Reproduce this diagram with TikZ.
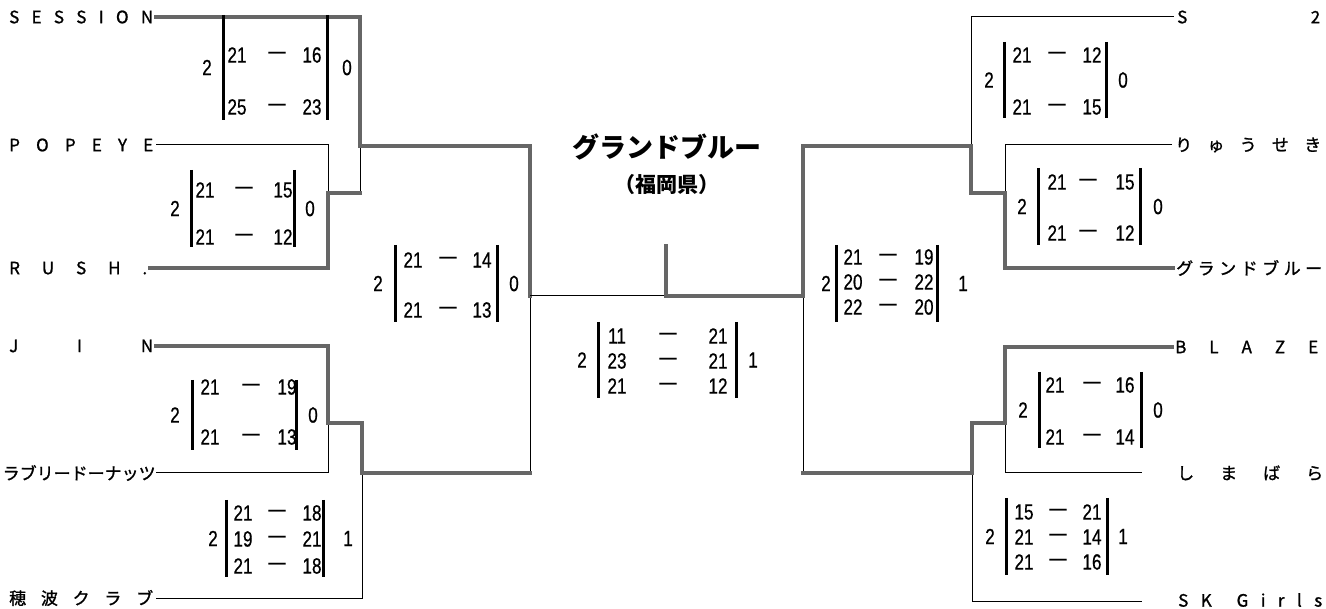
\documentclass[tikz,border=0pt]{standalone}
\usepackage{fontspec}
\newfontfamily\jp{Noto Sans CJK JP}
\newfontfamily\jpn[FakeBold=1.2]{Noto Sans CJK JP}
\newfontfamily\scf[FakeStretch=0.78,FakeBold=0.6]{Liberation Sans}
\usetikzlibrary{calc}
\tikzset{
  tl/.style={draw=black, line width=1pt},
  tk/.style={draw=black!60, line width=4.5pt, line join=miter, line cap=rect},
  sbar/.style={draw=black, line width=3pt},
  sc/.style={font=\scf\fontsize{22}{22}\selectfont, inner sep=0pt},
  nm/.style={font=\jpn\fontsize{17}{17}\selectfont, inner xsep=3pt, inner ysep=0pt, anchor=west},
  ttl/.style={font=\jp\bfseries\fontsize{27}{27}\selectfont, inner sep=0pt},
  sub/.style={font=\jp\bfseries\fontsize{21}{21}\selectfont, inner sep=0pt},
}
\newcommand\stab[9]{%
  \draw[sbar] (#3,#6) -- (#3,#7);
  \draw[sbar] (#4,#6) -- (#4,#7);
  \node[sc] (#1L) at (#2,{(#6+#7)/2}) {#8};
  \node[sc] (#1R) at (#5,{(#6+#7)/2}) {#9};
}
\newcommand\srow[7]{%
  \node[sc] (#1a) at (#3,#2) {#6};
  \node[sc] (#1d) at (#4,#2) {—};
  \node[sc] (#1b) at (#5,#2) {#7};
}
\begin{document}
\begin{tikzpicture}[x=1pt,y=-1pt]
\useasboundingbox (0,0) rectangle (1326,609);

% ---------- names left
\node[nm] (session) at (6,17) {\makebox[144pt]{S\hfill E\hfill S\hfill S\hfill I\hfill O\hfill N}};
\node[nm] (popeye) at (6,145) {\makebox[144pt]{P\hfill O\hfill P\hfill E\hfill Y\hfill E}};
\node[nm] (rush) at (6,268) {\makebox[138pt]{R\hfill U\hfill S\hfill H\hfill .}};
\node[nm] (jin) at (6,346) {\makebox[144pt]{J\hfill I\hfill N}};
\node[nm] (lovely) at (2,473) {\makebox[148pt]{ラ\hfill ブ\hfill リ\hfill ー\hfill ド\hfill ー\hfill ナ\hfill ッ\hfill ツ}};
\node[nm] (honami) at (6,598) {\makebox[144pt]{穂\hfill 波\hfill ク\hfill ラ\hfill ブ}};

% ---------- names right
\node[nm] (s2) at (1174,17) {\makebox[143pt]{S\hfill 2}};
\node[nm] (ryu) at (1172,145) {\makebox[146pt]{り\hfill ゅ\hfill う\hfill せ\hfill き}};
\node[nm] (grand) at (1173,268) {\makebox[146pt]{グ\hfill ラ\hfill ン\hfill ド\hfill ブ\hfill ル\hfill ー}};
\node[nm] (blaze) at (1172,347) {\makebox[143pt]{B\hfill L\hfill A\hfill Z\hfill E}};
\node[nm] (shima) at (1174,473) {\makebox[146pt]{し\hfill ま\hfill ば\hfill ら}};
\node[nm] (skg) at (1175,600) {\makebox[144pt]{S\hfill K\hfill\hfill G\hfill i\hfill r\hfill l\hfill s}};

% ---------- title
\node[ttl] (title) at (667,147) {グランドブルー};
\node[sub] (pref) at (667,185) {（福岡県）};

% ---------- junctions
\coordinate (A1) at (328,193);
\coordinate (A2) at (360,146);
\coordinate (B1) at (328,423);
\coordinate (B2) at (362,473);
\coordinate (L) at (530,296);
\coordinate (C) at (666,296);
\coordinate (Ctop) at (666,246);
\coordinate (R) at (803,296);
\coordinate (D1) at (1005,193);
\coordinate (D2) at (971,146);
\coordinate (E1) at (1005,423);
\coordinate (E2) at (972,473);
\coordinate (shimaend) at (1142,473);
\coordinate (skend) at (1142,601);

% ---------- left bracket
\draw[tl] (popeye.east) -- (328,145) -- (A1);
\draw[tl] (360,193) -- (A2);
\draw[tl] (lovely.east) -- (328,473) -- (B1);
\draw[tl] (honami.east) -- (362,598) -- (B2);
\draw[tl] (L) -- (530,473);
\draw[tk] (session.east) -- (360,17) -- (A2) -- (530,146) -- (L);
\draw[tk] (rush.east) -- (328,268) -- (A1) -- (360,193);
\draw[tk] (jin.east) -- (328,346) -- (B1) -- (362,423) -- (B2) -- (530,473);

% ---------- center
\draw[tl] (L) -- (C);
\draw[tk] (Ctop) -- (C) -- (R);

% ---------- right bracket
\draw[tl] (R) -- (803,473);
\draw[tl] (s2.west) -- (971,17) -- (D2);
\draw[tl] (ryu.west) -- (1005,145) -- (D1);
\draw[tl] (E1) -- (1005,473) -- (shimaend);
\draw[tl] (E2) -- (972,601) -- (skend);
\draw[tk] (R) -- (803,146) -- (D2) -- (971,193) -- (D1) -- (1005,268) -- (grand.west);
\draw[tk] (blaze.west) -- (1005,347) -- (E1) -- (972,423) -- (E2) -- (803,473);

% ---------- score tables
\stab{t1}{207}{223}{327}{347}{15}{120}{2}{0}
\srow{t1r1}{55}{237}{277}{312}{21}{16}
\srow{t1r2}{107}{237}{277}{312}{25}{23}

\stab{t2}{175}{191}{294}{310}{170}{247}{2}{0}
\srow{t2r1}{190}{205}{244}{283}{21}{15}
\srow{t2r2}{237}{205}{244}{283}{21}{12}

\stab{t3}{378}{395}{497}{514}{245}{322}{2}{0}
\srow{t3r1}{260}{413}{448}{482}{21}{14}
\srow{t3r2}{310}{413}{448}{482}{21}{13}

\stab{t4}{175}{192}{296}{313}{380}{450}{2}{0}
\srow{t4r1}{387}{210}{251}{287}{21}{19}
\srow{t4r2}{437}{210}{251}{287}{21}{13}

\stab{t5}{213}{226}{323}{348}{500}{577}{2}{1}
\srow{t5r1}{513}{243}{277}{312}{21}{18}
\srow{t5r2}{539}{243}{277}{312}{19}{21}
\srow{t5r3}{566}{243}{277}{312}{21}{18}

\stab{t6}{582}{598}{736}{753}{322}{398}{2}{1}
\srow{t6r1}{336}{617}{668}{718}{11}{21}
\srow{t6r2}{361}{617}{668}{718}{23}{21}
\srow{t6r3}{386}{617}{668}{718}{21}{12}

\stab{t7}{826}{836}{937}{963}{245}{322}{2}{1}
\srow{t7r1}{257}{853}{888}{924}{21}{19}
\srow{t7r2}{282}{853}{888}{924}{20}{22}
\srow{t7r3}{307}{853}{888}{924}{22}{20}

\stab{t8}{989}{1004}{1106}{1123}{42}{118}{2}{0}
\srow{t8r1}{55}{1022}{1057}{1092}{21}{12}
\srow{t8r2}{107}{1022}{1057}{1092}{21}{15}

\stab{t9}{1022}{1038}{1140}{1158}{168}{245}{2}{0}
\srow{t9r1}{182}{1057}{1088}{1125}{21}{15}
\srow{t9r2}{233}{1057}{1088}{1125}{21}{12}

\stab{t10}{1023}{1039}{1141}{1158}{372}{448}{2}{0}
\srow{t10r1}{385}{1055}{1092}{1125}{21}{16}
\srow{t10r2}{437}{1055}{1092}{1125}{21}{14}

\stab{t11}{990}{1006}{1107}{1123}{498}{575}{2}{1}
\srow{t11r1}{512}{1024}{1058}{1092}{15}{21}
\srow{t11r2}{537}{1024}{1058}{1092}{21}{14}
\srow{t11r3}{562}{1024}{1058}{1092}{21}{16}
\end{tikzpicture}
\end{document}
